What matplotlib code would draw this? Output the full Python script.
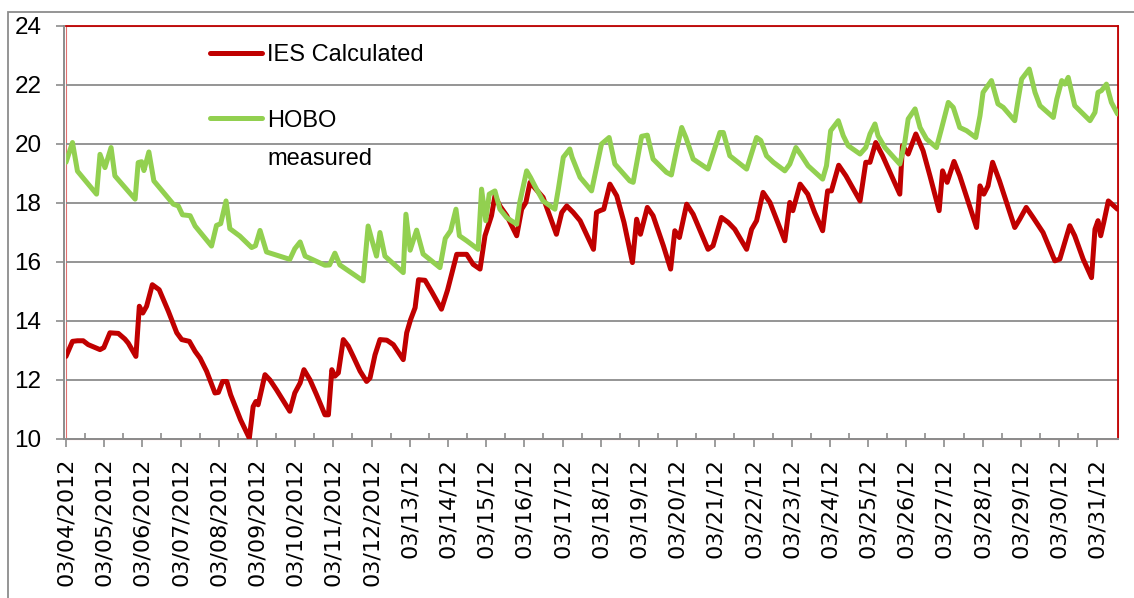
import matplotlib
matplotlib.use("Agg")
import matplotlib.pyplot as plt
from matplotlib.patches import Rectangle
from matplotlib.font_manager import FontProperties

# ---- data (time in days since 03/04/2012 00:00) ----
hobo_days = [0.00, 0.17, 0.30, 0.80, 0.89, 1.02, 1.18, 1.28, 1.81, 1.89, 1.98, 2.04, 2.17, 2.30,
             2.81, 2.94, 3.05, 3.25, 3.38, 3.81, 3.94, 4.05, 4.19, 4.29, 4.55, 4.86, 4.96, 5.08,
             5.25, 5.86, 5.99, 6.13, 6.26, 6.78, 6.90, 7.04, 7.17, 7.78, 7.91, 8.04, 8.13, 8.22,
             8.35, 8.83, 8.90, 9.01, 9.18, 9.35, 9.79, 9.93, 10.07, 10.21, 10.30, 10.49, 10.79,
             10.88, 10.99, 11.08, 11.23, 11.36, 11.54, 11.80, 11.88, 12.06, 12.16, 12.32, 12.49,
             12.80, 12.89, 13.02, 13.19, 13.25, 13.46, 13.76, 14.02, 14.22, 14.37, 14.76, 14.85,
             14.96, 15.07, 15.22, 15.37, 15.72, 15.85, 15.99, 16.12, 16.23, 16.42, 16.81, 17.12,
             17.21, 17.38, 17.82, 18.08, 18.19, 18.34, 18.52, 18.82, 18.95, 19.11, 19.26, 19.43,
             19.81, 19.91, 20.02, 20.22, 20.35, 20.48, 20.79, 20.94, 21.05, 21.18, 21.26, 21.44,
             21.83, 21.96, 22.05, 22.23, 22.36, 22.53, 22.79, 22.92, 23.10, 23.23, 23.40, 23.58,
             23.82, 23.93, 24.01, 24.23, 24.40, 24.54, 24.84, 24.93, 25.02, 25.22, 25.37, 25.50,
             25.85, 25.94, 26.07, 26.15, 26.24, 26.41, 26.81, 26.94, 27.02, 27.11, 27.24, 27.37,
             27.53]
hobo_vals = [19.38, 20.05, 19.08, 18.30, 19.65, 19.20, 19.88, 18.92, 18.13, 19.37, 19.40, 19.10, 19.73, 18.75,
             17.96, 17.90, 17.60, 17.57, 17.22, 16.54, 17.24, 17.30, 18.07, 17.13, 16.88, 16.49, 16.55, 17.07,
             16.34, 16.09, 16.45, 16.68, 16.20, 15.89, 15.90, 16.30, 15.90, 15.36, 17.22, 16.60, 16.20, 17.00,
             16.20, 15.64, 17.62, 16.40, 17.08, 16.27, 15.81, 16.80, 17.06, 17.79, 16.89, 16.72, 16.43,
             18.47, 17.40, 18.30, 18.41, 17.79, 17.50, 17.28, 18.02, 19.09, 18.87, 18.47, 18.07,
             17.79, 18.47, 19.55, 19.83, 19.55, 18.87, 18.41, 20.00, 20.22, 19.32, 18.75, 18.70,
             19.49, 20.26, 20.30, 19.49, 19.04, 18.95, 19.83, 20.56, 20.22, 19.49, 19.15, 20.39,
             20.39, 19.60, 19.15, 20.22, 20.12, 19.60, 19.38, 19.09, 19.32, 19.88, 19.60, 19.26,
             18.81, 19.26, 20.45, 20.79, 20.28, 19.94, 19.66, 19.88, 20.34, 20.68, 20.28, 19.88,
             19.32, 20.05, 20.85, 21.19, 20.56, 20.17, 19.88, 20.51, 21.41, 21.24, 20.56, 20.45,
             20.22, 20.96, 21.75, 22.15, 21.36, 21.24, 20.79, 21.52, 22.20, 22.54, 21.75, 21.30,
             20.90, 21.52, 22.15, 22.03, 22.26, 21.30, 20.79, 21.07, 21.75, 21.81, 22.03, 21.41,
             21.02]

ies_days = [0.00, 0.17, 0.30, 0.45, 0.58, 0.89, 0.99, 1.15, 1.37, 1.54, 1.63, 1.83, 1.92, 2.01, 2.11,
            2.26, 2.44, 2.68, 2.90, 3.03, 3.23, 3.38, 3.51, 3.68, 3.90, 3.99, 4.10, 4.21, 4.31, 4.48,
            4.57, 4.80, 4.90, 4.97, 5.03, 5.21, 5.34, 5.51, 5.86, 5.99, 6.13, 6.23, 6.39, 6.56, 6.78,
            6.87, 6.96, 7.04, 7.13, 7.26, 7.39, 7.52, 7.70, 7.87, 7.96, 8.09, 8.22, 8.40, 8.57, 8.83,
            8.92, 9.02, 9.14, 9.23, 9.40, 9.58, 9.83, 9.99, 10.23, 10.49, 10.66, 10.84, 10.97, 11.14,
            11.23, 11.36, 11.54, 11.80, 11.93, 12.04, 12.15, 12.30, 12.49, 12.84, 12.98, 13.11, 13.28,
            13.46, 13.81, 13.89, 13.98, 14.08, 14.24, 14.42, 14.61, 14.83, 14.94, 15.04, 15.22, 15.37,
            15.64, 15.83, 15.94, 16.06, 16.25, 16.42, 16.81, 16.94, 17.16, 17.34, 17.51, 17.82, 17.95,
            18.08, 18.25, 18.43, 18.60, 18.82, 18.95, 19.03, 19.22, 19.42, 19.60, 19.81, 19.94, 20.04,
            20.23, 20.42, 20.79, 20.94, 21.05, 21.20, 21.38, 21.83, 21.90, 22.05, 22.25, 22.44, 22.62,
            22.86, 22.95, 23.07, 23.25, 23.40, 23.84, 23.93, 24.03, 24.14, 24.26, 24.44, 24.84, 24.97,
            25.14, 25.32, 25.58, 25.89, 26.02, 26.28, 26.41, 26.63, 26.85, 26.94, 27.02, 27.09, 27.17,
            27.29, 27.53]
ies_vals = [12.80, 13.31, 13.33, 13.33, 13.20, 13.03, 13.10, 13.60, 13.58, 13.39, 13.25, 12.80, 14.50, 14.27, 14.50,
            15.23, 15.06, 14.33, 13.60, 13.37, 13.31, 12.97, 12.74, 12.30, 11.56, 11.58, 11.95, 11.95, 11.50, 10.94,
            10.65, 10.03, 11.10, 11.27, 11.16, 12.18, 12.00, 11.67, 10.94, 11.56, 11.90, 12.35, 12.00, 11.50, 10.82,
            10.82, 12.35, 12.13, 12.24, 13.37, 13.15, 12.80, 12.30, 11.95, 12.07, 12.85, 13.37, 13.35, 13.20, 12.69,
            13.60, 14.04, 14.45, 15.40, 15.38, 14.98, 14.40, 15.05, 16.26, 16.26, 15.92, 15.76, 16.89, 17.57,
            18.24, 17.90, 17.57, 16.89, 17.79, 18.02, 18.70, 18.47, 18.19, 16.94, 17.68, 17.90, 17.68,
            17.40, 16.43, 17.68, 17.74, 17.79, 18.64, 18.24, 17.34, 15.98, 17.45, 16.94, 17.85, 17.57,
            16.55, 15.76, 17.06, 16.83, 17.96, 17.62, 16.43, 16.55, 17.51, 17.34, 17.11, 16.43, 17.11,
            17.40, 18.36, 18.02, 17.45, 16.72, 18.02, 17.74, 18.64, 18.30, 17.68, 17.06, 18.41, 18.41,
            19.28, 18.92, 18.07, 19.38, 19.38, 20.05, 19.60, 18.30, 19.94, 19.66, 20.34, 19.77, 18.92,
            17.74, 19.09, 18.70, 19.41, 18.92, 17.17, 18.58, 18.30, 18.58, 19.38, 18.75, 17.17, 17.45,
            17.85, 17.51, 17.00, 16.04, 16.10, 17.23, 16.89, 16.10, 15.47, 17.11, 17.40, 16.89, 17.34,
            18.07, 17.79]

day_labels = ["03/04/2012", "03/05/2012", "03/06/2012", "03/07/2012", "03/08/2012", "03/09/2012",
              "03/10/2012", "03/11/2012", "03/12/2012", "03/13/12", "03/14/12", "03/15/12",
              "03/16/12", "03/17/12", "03/18/12", "03/19/12", "03/20/12", "03/21/12", "03/22/12",
              "03/23/12", "03/24/12", "03/25/12", "03/26/12", "03/27/12", "03/28/12", "03/29/12",
              "03/30/12", "03/31/12"]
y_ticks = [10, 12, 14, 16, 18, 20, 22, 24]

series_names = ["IES Calculated", "HOBO", "measured"]

# ---- style ----
RED = "#C00000"
GREEN = "#92D050"
GRAY = "#8C8C8C"
W, H = 1134, 598

fig = plt.figure(figsize=(W / 100, H / 100), dpi=100)
ax = fig.add_axes([66 / W, 1 - 439 / H, (1117.5 - 66) / W, (439 - 26) / H])

ln_ies, = ax.plot(ies_days, ies_vals, color=RED, lw=3.6, solid_joinstyle="round",
                  solid_capstyle="round", zorder=3)
ln_hobo, = ax.plot(hobo_days, hobo_vals, color=GREEN, lw=3.6, solid_joinstyle="round",
                   solid_capstyle="round", zorder=3)

ax.set_xlim(0, 27.53)
ax.set_ylim(10, 24)
ax.set_yticks(y_ticks)
ax.set_yticklabels([str(v) for v in y_ticks])
ax.set_xticks(range(len(day_labels)))
ax.set_xticklabels(day_labels, rotation=90, fontsize=16, family="DejaVu Sans")
ax.set_xticks([i + 0.5 for i in range(len(day_labels) - 1)], minor=True)

ax.grid(axis="y", color=GRAY, lw=1.3)
ax.set_axisbelow(True)

ax.tick_params(axis="y", which="major", length=6, width=1.2, color=GRAY, pad=10.5,
               labelsize=17.5, labelfontfamily="Liberation Sans")
ax.tick_params(axis="x", which="major", direction="out", length=5.5, width=1.2, color=GRAY, pad=8)
ax.tick_params(axis="x", which="minor", direction="in", length=4, width=1.2, color=GRAY)

for s in ("top", "right"):
    ax.spines[s].set_color(RED)
    ax.spines[s].set_linewidth(1.3)
ax.spines["left"].set_color(GRAY)
ax.spines["left"].set_linewidth(1.4)
ax.spines["left"].set_position(("outward", 1.2))
ax.spines["bottom"].set_color(GRAY)
ax.spines["bottom"].set_linewidth(1.4)
ax.add_patch(Rectangle((0, 0), 1, 1, transform=ax.transAxes, fill=False,
                       edgecolor="#E07070", lw=0.8, zorder=0.5, clip_on=False))

# outer chart border (only top and left are visible in the frame)
fig.add_artist(Rectangle((8 / W, -0.2), 2, 1.2 - 11.5 / H, transform=fig.transFigure,
                         fill=False, edgecolor=GRAY, lw=1.3))

# legend
lp = FontProperties(family="Liberation Sans", size=17)
leg = ax.legend([ln_ies, ln_hobo], series_names[:2], loc="upper left",
                bbox_to_anchor=(210 / W, 1 - 44 / H), bbox_transform=fig.transFigure,
                frameon=False, prop=lp, handlelength=2.2, handletextpad=0.22,
                labelspacing=1.85, borderpad=0, borderaxespad=0)
fig.canvas.draw()
renderer = fig.canvas.get_renderer()
bb = leg.get_texts()[1].get_window_extent(renderer)
_, _, desc = renderer.get_text_width_height_descent("HOBO", lp, ismath=False)
base = bb.y0 + desc
fig.text(bb.x0 / W, (base - 33.5) / H, series_names[2], fontproperties=lp,
         ha="left", va="baseline")

fig.savefig("out.png", dpi=100)
